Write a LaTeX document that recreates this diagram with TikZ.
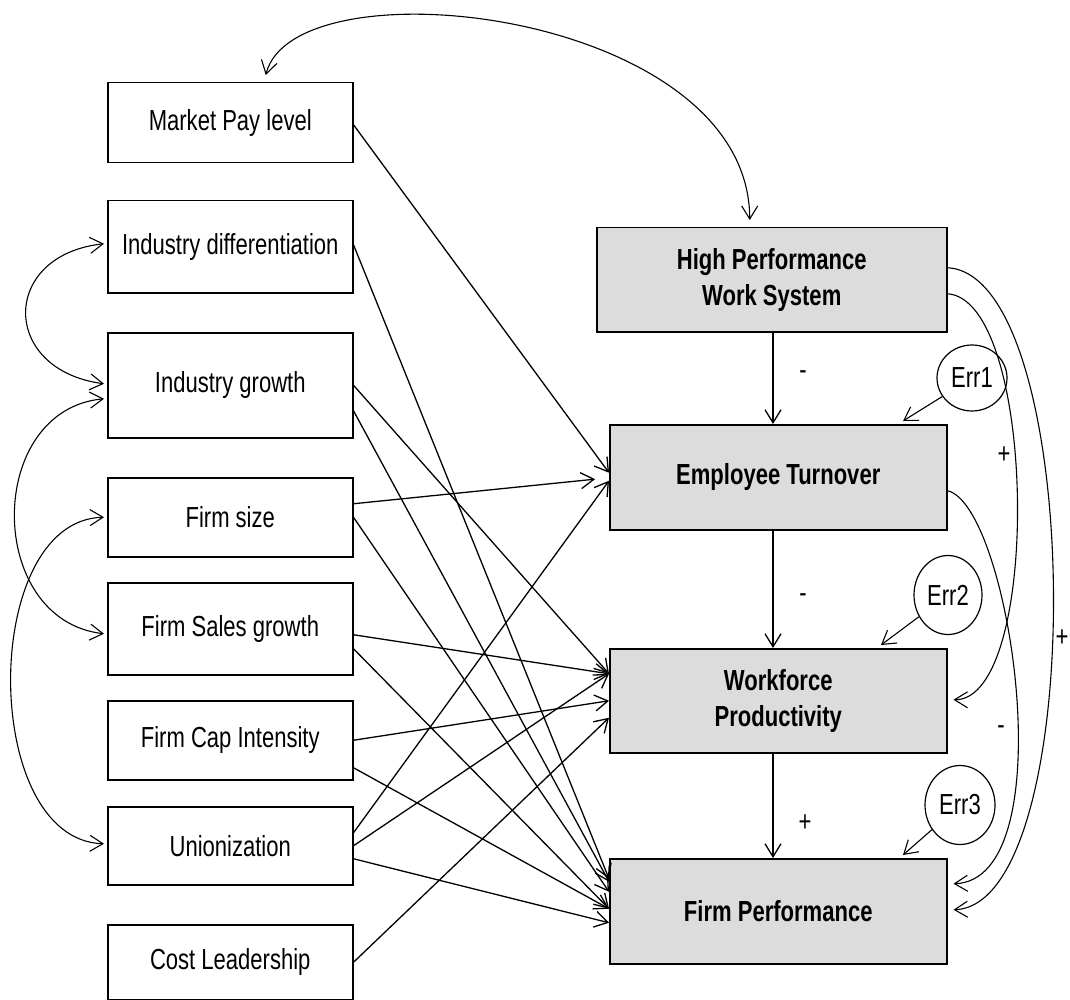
\documentclass[tikz,border=0pt]{standalone}
\usepackage{fontspec}
\setmainfont{Liberation Sans}[FakeStretch=0.76]
\usetikzlibrary{arrows.meta,shapes.geometric}
\definecolor{boxgray}{RGB}{220,220,220}
\begin{document}
\begin{tikzpicture}[x=1pt,y=-1pt,
  font=\fontsize{29}{36}\selectfont,
  >={Straight Barb[length=13pt,width=16pt]},
  lbox/.style={draw, line width=1.5pt, anchor=north west, inner sep=0pt, minimum width=245pt, align=center},
  rbox/.style={draw, line width=1.5pt, fill=boxgray, anchor=north west, inner sep=0pt, align=center, font=\fontsize{29}{36}\selectfont\bfseries},
  errnode/.style={draw, ellipse, line width=1.2pt, inner sep=0pt},
  conn/.style={->, line width=1.3pt},
  corr/.style={<->, line width=1.1pt},
  curv/.style={->, line width=1.1pt},
  sign/.style={inner sep=0pt}
]
\useasboundingbox (0,0) rectangle (1070,1000);

% left boxes
\node[lbox, minimum height=80pt] (mp) at (107,82) {Market Pay level};
\node[lbox, minimum height=92pt] (id) at (107,200) {Industry differentiation};
\node[lbox, minimum height=105pt] (ig) at (107,332) {Industry growth};
\node[lbox, minimum height=79pt] (fs) at (107,477) {Firm size};
\node[lbox, minimum height=92pt] (fsg) at (107,582) {Firm Sales growth};
\node[lbox, minimum height=79pt] (fc) at (107,700) {Firm Cap Intensity};
\node[lbox, minimum height=78pt] (un) at (107,806) {Unionization};
\node[lbox, minimum height=75pt] (cl) at (107,924) {Cost Leadership};

% right boxes
\node[rbox, minimum width=350pt, minimum height=104pt] (hp) at (596,227) {High Performance\\Work System};
\node[rbox, minimum width=337pt, minimum height=105pt] (et) at (609,424) {Employee Turnover};
\node[rbox, minimum width=337pt, minimum height=104pt] (wp) at (609,648) {Workforce\\Productivity};
\node[rbox, minimum width=337pt, minimum height=105pt] (fp) at (609,858) {Firm Performance};

% error terms
\node[errnode, minimum width=70pt, minimum height=66pt] (e1) at (972,378) {Err1};
\node[errnode, minimum width=68pt, minimum height=79pt] (e2) at (948,595) {Err2};
\node[errnode, minimum width=70pt, minimum height=79pt] (e3) at (960,805) {Err3};

\coordinate (t1) at (903,421);
\coordinate (t2) at (881,645);
\coordinate (t3) at (903,855);
\coordinate (vx) at (773,0);

% main chain
\draw[conn] (hp.south -| vx) -- (et.north -| vx);
\draw[conn] (et.south -| vx) -- (wp.north -| vx);
\draw[conn] (wp.south -| vx) -- (fp.north -| vx);

\draw[curv] (e1) -- (t1);
\draw[curv] (e2) -- (t2);
\draw[curv] (e3) -- (t3);

% predictors
\draw[conn] ([yshift=-2pt]mp.east) -- ([yshift=4.5pt]et.west);
\draw[conn] ([yshift=2pt]id.east) -- ([yshift=32.5pt]fp.west);
\draw[conn] (ig.east) -- ([yshift=27pt]wp.west);
\draw[conn] ([yshift=-25.5pt]ig.east) -- ([yshift=29.5pt]fp.west);
\draw[conn, shorten >=14pt] ([yshift=13.5pt]fs.east) -- ([yshift=-0.5pt]et.west);
\draw[conn] (fs.east) -- ([yshift=19.5pt]fp.west);
\draw[conn] ([yshift=-6pt]fsg.east) -- ([yshift=27pt]wp.west);
\draw[conn] ([yshift=-20pt]fsg.east) -- ([yshift=2.5pt]fp.west);
\draw[conn] (fc.east) -- (wp.west);
\draw[conn] ([yshift=-27.5pt]fc.east) -- ([yshift=2.5pt]fp.west);
\draw[conn] ([yshift=13pt]un.east) -- ([yshift=-3.5pt]et.west);
\draw[conn] (un.east) -- ([yshift=27pt]wp.west);
\draw[conn] ([yshift=-13pt]un.east) -- ([yshift=-11.5pt]fp.west);
\draw[conn] (cl.east) -- ([yshift=-17pt]wp.west);

% correlations
\draw[corr] ([xshift=-3pt,yshift=3pt]id.west) .. controls (0,255) and (0,370) .. ([xshift=-3pt,yshift=1.5pt]ig.west);
\draw[corr] ([xshift=-3pt,yshift=-13.5pt]ig.west) .. controls (-15,410) and (-15,620) .. ([xshift=-3pt,yshift=-5pt]fsg.west);
\draw[corr] ([xshift=-3pt]fs.west) .. controls (-20,520) and (-20,840) .. ([xshift=-3pt,yshift=2pt]un.west);
\draw[corr] ([xshift=35.5pt,yshift=7pt]mp.north) .. controls (295,-40) and (749,10) .. ([xshift=-22pt,yshift=7pt]hp.north);

% right-hand curved paths
\draw[curv] ([yshift=12pt]hp.east) .. controls (1085,275) and (1090,905) .. ([xshift=6pt,yshift=1.5pt]fp.east);
\draw[curv] ([yshift=-14pt]hp.east) .. controls (1037,300) and (1042,700) .. ([xshift=6pt,yshift=1pt]wp.east);
\draw[curv] ([yshift=-13.5pt]et.east) .. controls (1010,505) and (1066,880) .. ([xshift=6pt,yshift=27.5pt]fp.east);

% signs
\node[sign] (s1) at (803,375) {-};
\node[sign] (s2) at (803,598) {-};
\node[sign] (s3) at (805,823) {+};
\node[sign] (s4) at (1004,455) {+};
\node[sign] (s5) at (1062,638) {+};
\node[sign] (s6) at (1001,730) {-};
\end{tikzpicture}
\end{document}
